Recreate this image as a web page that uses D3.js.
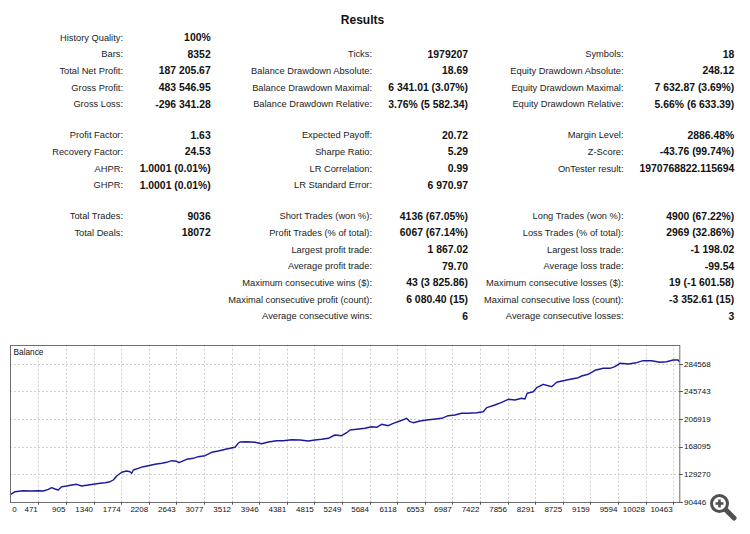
<!DOCTYPE html>
<html>
<head>
<meta charset="utf-8">
<script src="https://cdn.jsdelivr.net/npm/d3@7"></script>
<style>
  html, body { margin: 0; padding: 0; background: #fff; }
  svg { display: block; }
</style>
</head>
<body>
<div id="chart"></div>
<script>
"use strict";

// report rows, 18 slots per column, null = empty cell
const col1Labels = ['History Quality:', 'Bars:', 'Total Net Profit:', 'Gross Profit:', 'Gross Loss:', null,
  'Profit Factor:', 'Recovery Factor:', 'AHPR:', 'GHPR:', null,
  'Total Trades:', 'Total Deals:', null, null, null, null, null]
const col1Values = ['100%', '8352', '187 205.67', '483 546.95', '-296 341.28', null,
  '1.63', '24.53', '1.0001 (0.01%)', '1.0001 (0.01%)', null,
  '9036', '18072', null, null, null, null, null]

const col2Labels = [null, 'Ticks:', 'Balance Drawdown Absolute:', 'Balance Drawdown Maximal:', 'Balance Drawdown Relative:', null,
  'Expected Payoff:', 'Sharpe Ratio:', 'LR Correlation:', 'LR Standard Error:', null,
  'Short Trades (won %):', 'Profit Trades (% of total):', 'Largest profit trade:', 'Average profit trade:',
  'Maximum consecutive wins ($):', 'Maximal consecutive profit (count):', 'Average consecutive wins:']
const col2Values = [null, '1979207', '18.69', '6 341.01 (3.07%)', '3.76% (5 582.34)', null,
  '20.72', '5.29', '0.99', '6 970.97', null,
  '4136 (67.05%)', '6067 (67.14%)', '1 867.02', '79.70', '43 (3 825.86)', '6 080.40 (15)', '6']

const col3Labels = [null, 'Symbols:', 'Equity Drawdown Absolute:', 'Equity Drawdown Maximal:', 'Equity Drawdown Relative:', null,
  'Margin Level:', 'Z-Score:', 'OnTester result:', null, null,
  'Long Trades (won %):', 'Loss Trades (% of total):', 'Largest loss trade:', 'Average loss trade:',
  'Maximum consecutive losses ($):', 'Maximal consecutive loss (count):', 'Average consecutive losses:']
const col3Values = [null, '18', '248.12', '7 632.87 (3.69%)', '5.66% (6 633.39)', null,
  '2886.48%', '-43.76 (99.74%)', '1970768822.115694', null, null,
  '4900 (67.22%)', '2969 (32.86%)', '-1 198.02', '-99.54', '19 (-1 601.58)', '-3 352.61 (15)', '3']

// balance curve (deal number, balance)
const dealIndex = [25, 104, 234, 367, 471, 549, 628, 681, 733, 785, 839, 918, 996, 1075, 1154, 1232, 1336,
  1442, 1520, 1599, 1651, 1704, 1783, 1862, 1914, 1941, 1966, 2044, 2123, 2202, 2307, 2413, 2491, 2570,
  2649, 2685, 2768, 2806, 2910, 2989, 3094, 3200, 3303, 3436, 3566, 3618, 3645, 3750, 3881, 3986, 4090,
  4223, 4326, 4459, 4589, 4720, 4825, 4931, 5035, 5140, 5245, 5324, 5376, 5482, 5612, 5718, 5796, 5875,
  5979, 6058, 6163, 6268, 6320, 6372, 6478, 6583, 6687, 6819, 6923, 7029, 7134, 7238, 7370, 7474, 7528,
  7658, 7764, 7867, 7973, 8078, 8130, 8166, 8261, 8315, 8418, 8497, 8551, 8629, 8733, 8865, 8969, 9023,
  9126, 9232, 9363, 9468, 9547, 9625, 9756, 9888, 9992, 10124, 10255, 10360, 10464, 10543, 10560]
const balance = [100000, 104513, 105920, 105498, 105920, 105498, 107889, 110140, 108311, 106904, 111546,
  112531, 113938, 114923, 112531, 113516, 114923, 116329, 117173, 118580, 120971, 126598, 131803, 133632,
  132647, 130396, 135038, 137430, 139681, 141087, 143057, 144463, 145870, 148121, 147277, 145307, 148683,
  150090, 151497, 153748, 155154, 159937, 161766, 164579, 166970, 172597, 174426, 174848, 174004, 172035,
  174426, 176255, 176255, 177661, 177239, 175833, 177239, 178224, 179631, 184273, 183288, 187508, 191306,
  192291, 193698, 195949, 195104, 199325, 197355, 200731, 203967, 207765, 202982, 201575, 203967, 205373,
  206358, 207765, 211422, 212407, 214798, 214798, 215642, 217049, 222676, 226474, 230272, 234492, 233507,
  235899, 234914, 242932, 245183, 250810, 255593, 253623, 252217, 258406, 260657, 263048, 264877, 267268,
  269660, 275286, 278100, 278100, 280351, 285133, 284149, 285977, 288791, 288791, 286540, 287384, 289775,
  289775, 287206]

const xTicks = [0, 471, 905, 1340, 1774, 2208, 2643, 3077, 3512, 3946, 4381, 4815, 5249, 5684, 6118,
  6553, 6987, 7422, 7856, 8291, 8725, 9159, 9594, 10028, 10463]
const yTicks = [90446, 129270, 168095, 206919, 245743, 284568]

const W = 750, H = 534

const d = {
  LEFT: 10,
  RIGHT: 679.3,
  TOP: 344.7,
  BOTTOM: 501.7,
  FONT: '"Liberation Sans", Arial, sans-serif',
}

// table geometry
const t = {
  ROW0: 37.3,
  PITCH: 16.67,
  GAP_FIX: 2.3,
  cols: [
    { labels: col1Labels, values: col1Values, labelX: 123, valueX: 210.7 },
    { labels: col2Labels, values: col2Values, labelX: 372, valueX: 468 },
    { labels: col3Labels, values: col3Values, labelX: 623.5, valueX: 734.3 },
  ],
}

const svg = d3.select('#chart')
  .append('svg')
  .attr('width', W)
  .attr('height', H)
  .style('font-family', d.FONT)

svg.append('rect')
  .attr('width', W)
  .attr('height', H)
  .attr('fill', '#fff')

svg.append('text')
  .attr('x', 362.5)
  .attr('y', 23.5)
  .attr('text-anchor', 'middle')
  .attr('font-size', 12)
  .attr('font-weight', 'bold')
  .attr('fill', '#111')
  .text('Results')

// blank rows come out a bit shorter than a full row
const rowY = i => {
  const gaps = (i > 5 ? 1 : 0) + (i > 10 ? 1 : 0)
  return t.ROW0 + i * t.PITCH - gaps * t.GAP_FIX
}

const table = svg.append('g')

t.cols.forEach(col => {
  col.labels.forEach((label, i) => {
    if (label) {
      table.append('text')
        .attr('x', col.labelX)
        .attr('y', rowY(i))
        .attr('dy', '0.35em')
        .attr('text-anchor', 'end')
        .attr('font-size', 9.3)
        .attr('fill', '#222')
        .text(label)
    }
    const v = col.values[i]
    if (v) {
      table.append('text')
        .attr('x', col.valueX)
        .attr('y', rowY(i))
        .attr('dy', '0.35em')
        .attr('text-anchor', 'end')
        .attr('font-size', 10.4)
        .attr('font-weight', 'bold')
        .attr('fill', '#111')
        .text(v)
    }
  })
})

// balance chart
const x = d3.scaleLinear().domain([25, 10560]).range([d.LEFT, d.RIGHT])
const y = d3.scaleLinear().domain([90446, 311300]).range([d.BOTTOM, d.TOP])

const chart = svg.append('g')

chart.append('g')
  .selectAll('line')
  .data(xTicks.filter(v => x(v) > d.LEFT + 1))
  .join('line')
    .attr('x1', v => Math.round(x(v)) + 0.5)
    .attr('x2', v => Math.round(x(v)) + 0.5)
    .attr('y1', d.TOP)
    .attr('y2', d.BOTTOM)
    .attr('stroke', '#cfcfcf')
    .attr('stroke-dasharray', '2,2')

chart.append('g')
  .selectAll('line')
  .data(yTicks.filter(v => y(v) < d.BOTTOM - 1))
  .join('line')
    .attr('x1', d.LEFT)
    .attr('x2', d.RIGHT)
    .attr('y1', v => Math.round(y(v)) + 0.5)
    .attr('y2', v => Math.round(y(v)) + 0.5)
    .attr('stroke', '#cfcfcf')
    .attr('stroke-dasharray', '2,2')

const pts = dealIndex.map((n, i) => [n, balance[i]])

chart.append('path')
  .datum(pts)
  .attr('fill', 'none')
  .attr('stroke', '#1c1a9c')
  .attr('stroke-width', 1.4)
  .attr('stroke-linejoin', 'round')
  .attr('d', d3.line().x(p => x(p[0])).y(p => y(p[1])))

chart.append('rect')
  .attr('x', d.LEFT + 0.5)
  .attr('y', Math.round(d.TOP) + 0.5)
  .attr('width', d.RIGHT - d.LEFT)
  .attr('height', d.BOTTOM - d.TOP)
  .attr('fill', 'none')
  .attr('stroke', '#6e6e6e')

chart.append('text')
  .attr('x', d.LEFT + 3.5)
  .attr('y', 352)
  .attr('dy', '0.35em')
  .attr('font-size', 8.3)
  .attr('fill', '#111')
  .text('Balance')

// x axis: labels sit to the left of their tick, first one hugs the frame
const xAxis = chart.append('g')
xTicks.forEach(v => {
  const px = x(v)
  if (px > d.LEFT + 1) {
    xAxis.append('line')
      .attr('x1', Math.round(px) + 0.5)
      .attr('x2', Math.round(px) + 0.5)
      .attr('y1', d.BOTTOM)
      .attr('y2', d.BOTTOM + 3)
      .attr('stroke', '#555')
  }
  xAxis.append('text')
    .attr('x', px > d.LEFT + 1 ? px - 0.5 : d.LEFT + 2.3)
    .attr('y', 509.3)
    .attr('dy', '0.35em')
    .attr('text-anchor', px > d.LEFT + 1 ? 'end' : 'start')
    .attr('font-size', 8)
    .attr('fill', '#111')
    .text(v)
})

const yAxis = chart.append('g')
yTicks.forEach(v => {
  yAxis.append('line')
    .attr('x1', d.RIGHT)
    .attr('x2', d.RIGHT + 3.5)
    .attr('y1', Math.round(y(v)) + 0.5)
    .attr('y2', Math.round(y(v)) + 0.5)
    .attr('stroke', '#555')
  yAxis.append('text')
    .attr('x', 684)
    .attr('y', y(v))
    .attr('dy', '0.35em')
    .attr('font-size', 8)
    .attr('fill', '#111')
    .text(v)
})

// magnifier overlay in the corner
const zoomIcon = svg.append('g')
  .attr('stroke', '#505050')
  .attr('stroke-linecap', 'round')
zoomIcon.append('line')
  .attr('x1', 726).attr('y1', 510).attr('x2', 734).attr('y2', 518)
  .attr('stroke-width', 5)
zoomIcon.append('circle')
  .attr('cx', 719.5).attr('cy', 503.5).attr('r', 8)
  .attr('fill', '#fff')
  .attr('stroke-width', 3)
zoomIcon.append('line')
  .attr('x1', 715.5).attr('y1', 503.5).attr('x2', 723.5).attr('y2', 503.5)
  .attr('stroke-width', 2.6)
  .attr('stroke-linecap', 'butt')
zoomIcon.append('line')
  .attr('x1', 719.5).attr('y1', 499.5).attr('x2', 719.5).attr('y2', 507.5)
  .attr('stroke-width', 2.6)
  .attr('stroke-linecap', 'butt')
</script>
</body>
</html>
